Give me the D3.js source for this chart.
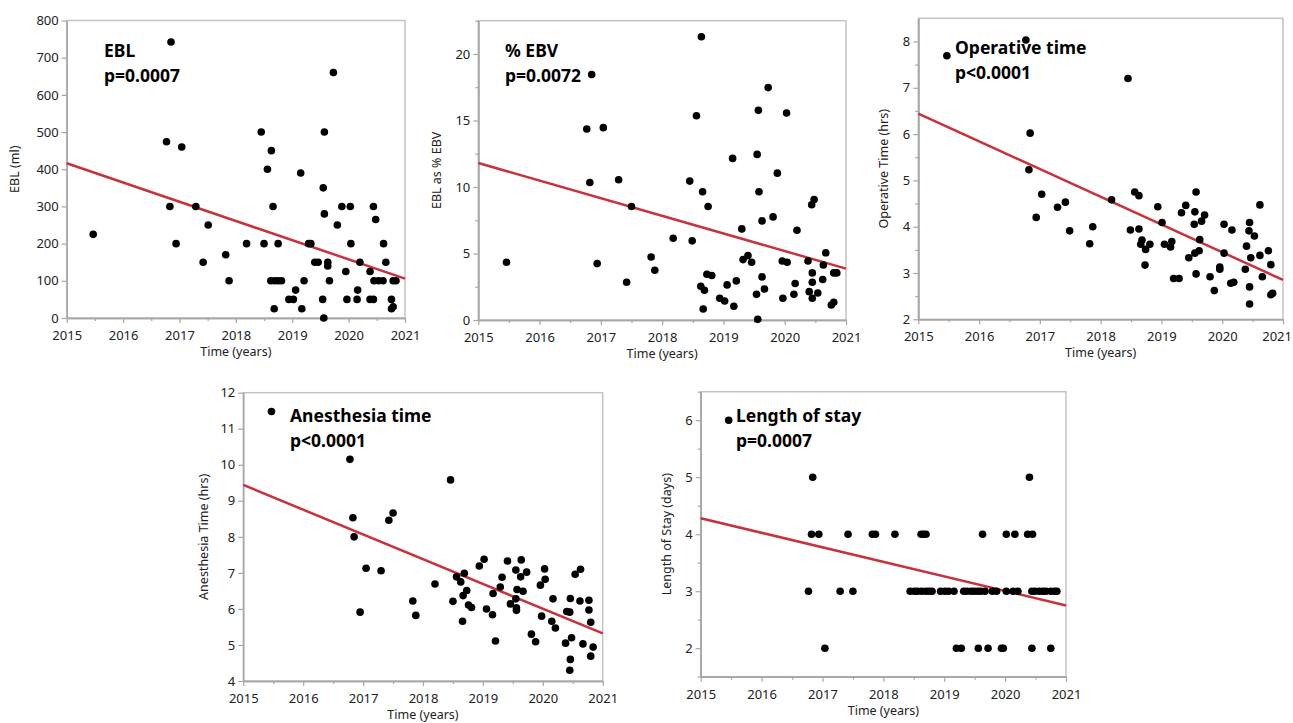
<!DOCTYPE html>
<html>
<head>
<meta charset="utf-8">
<script src="https://cdn.jsdelivr.net/npm/d3@7"></script>
<style>
  body { margin: 0; background: #fff; }
  text { font-family: "Noto Sans", sans-serif; }
</style>
</head>
<body>
<svg id="chart" width="1293" height="723"></svg>
<script>
// x 轴刻度
const years = [2015, 2016, 2017, 2018, 2019, 2020, 2021]

// [time (years), value]
const eblPoints = [
  [2015.47, 225], [2016.85, 742], [2016.77, 474], [2017.04, 460], [2016.83, 300], [2017.29, 300],
  [2017.51, 250], [2016.94, 200], [2017.42, 150], [2017.82, 170], [2017.88, 100], [2018.19, 200],
  [2018.45, 500], [2018.50, 200], [2018.56, 400], [2018.63, 450], [2018.66, 300], [2018.75, 200],
  [2018.62, 100], [2018.69, 100], [2018.75, 100], [2018.81, 100], [2018.68, 25], [2018.94, 50],
  [2019.02, 50], [2019.06, 75], [2019.15, 390], [2019.17, 25], [2019.21, 100], [2019.29, 200],
  [2019.33, 200], [2019.40, 150], [2019.46, 150], [2019.54, 50], [2019.56, 0], [2019.55, 350],
  [2019.57, 500], [2019.57, 280], [2019.63, 150], [2019.63, 140], [2019.66, 100], [2019.73, 660],
  [2019.80, 250], [2019.88, 300], [2019.95, 125], [2019.97, 50], [2020.03, 300], [2020.04, 200],
  [2020.15, 50], [2020.16, 75], [2020.20, 150], [2020.38, 125], [2020.38, 50], [2020.44, 50],
  [2020.44, 300], [2020.48, 265], [2020.45, 100], [2020.53, 100], [2020.61, 100], [2020.62, 200],
  [2020.66, 150], [2020.76, 50], [2020.76, 25], [2020.79, 30], [2020.79, 100], [2020.84, 100]
]
const ebvPoints = [
  [2015.46, 4.34], [2016.85, 18.45], [2016.77, 14.36], [2017.04, 14.46], [2016.82, 10.34], [2017.29, 10.54],
  [2017.50, 8.53], [2016.94, 4.24], [2017.42, 2.84], [2017.82, 4.74], [2017.88, 3.74], [2018.18, 6.15],
  [2018.45, 10.44], [2018.49, 5.95], [2018.56, 15.36], [2018.64, 21.29], [2018.66, 9.64], [2018.75, 8.53],
  [2018.63, 2.54], [2018.69, 2.24], [2018.73, 3.44], [2018.81, 3.34], [2018.67, 0.83], [2018.94, 1.63],
  [2019.02, 1.43], [2019.06, 2.64], [2019.15, 12.15], [2019.17, 1.03], [2019.21, 2.94], [2019.30, 6.85],
  [2019.32, 4.54], [2019.40, 4.84], [2019.46, 4.34], [2019.54, 1.93], [2019.56, 0.05], [2019.55, 12.45],
  [2019.57, 15.76], [2019.58, 9.64], [2019.63, 3.24], [2019.63, 7.45], [2019.67, 2.33], [2019.73, 17.47],
  [2019.81, 7.75], [2019.88, 11.04], [2019.96, 4.44], [2020.04, 4.34], [2019.97, 1.63], [2020.03, 15.56],
  [2020.15, 1.93], [2020.17, 2.74], [2020.20, 6.75], [2020.38, 4.44], [2020.40, 2.13], [2020.44, 8.66],
  [2020.48, 9.06], [2020.45, 3.54], [2020.45, 2.84], [2020.45, 1.63], [2020.54, 2.03], [2020.62, 3.04],
  [2020.63, 4.14], [2020.67, 5.05], [2020.76, 1.13], [2020.80, 1.33], [2020.80, 3.54], [2020.85, 3.54]
]
const opPoints = [
  [2015.47, 7.69], [2016.77, 8.03], [2016.84, 6.02], [2016.82, 5.23], [2017.03, 4.70], [2016.94, 4.20],
  [2017.29, 4.42], [2017.42, 4.53], [2017.49, 3.91], [2017.82, 3.63], [2017.87, 4.00], [2018.18, 4.58],
  [2018.45, 7.20], [2018.49, 3.93], [2018.56, 4.75], [2018.63, 4.67], [2018.63, 3.95], [2018.68, 3.71],
  [2018.66, 3.62], [2018.74, 3.51], [2018.73, 3.17], [2018.81, 3.62], [2018.94, 4.43], [2019.01, 4.09],
  [2019.05, 3.62], [2019.15, 3.56], [2019.17, 3.68], [2019.20, 2.88], [2019.29, 2.88], [2019.33, 4.30],
  [2019.40, 4.46], [2019.45, 3.33], [2019.54, 4.05], [2019.55, 4.32], [2019.57, 4.75], [2019.55, 3.43],
  [2019.62, 3.48], [2019.63, 3.72], [2019.57, 2.98], [2019.66, 4.12], [2019.71, 4.25], [2019.80, 2.92],
  [2019.87, 2.62], [2019.96, 3.08], [2019.96, 3.13], [2020.03, 4.05], [2020.03, 3.43], [2020.14, 2.78],
  [2020.19, 2.80], [2020.16, 3.93], [2020.38, 3.08], [2020.40, 3.58], [2020.45, 4.09], [2020.44, 3.91],
  [2020.45, 2.70], [2020.45, 2.33], [2020.47, 3.33], [2020.53, 3.80], [2020.62, 3.38], [2020.62, 4.47],
  [2020.66, 2.92], [2020.76, 3.48], [2020.80, 3.18], [2020.80, 2.53], [2020.83, 2.56]
]
const anesPoints = [
  [2015.47, 11.48], [2016.78, 10.15], [2016.83, 8.53], [2016.85, 8.00], [2017.05, 7.13], [2017.30, 7.06],
  [2016.95, 5.91], [2017.43, 8.46], [2017.50, 8.66], [2017.83, 6.22], [2017.88, 5.82], [2018.20, 6.69],
  [2018.46, 9.58], [2018.50, 6.21], [2018.56, 6.89], [2018.63, 6.75], [2018.69, 6.99], [2018.67, 6.37],
  [2018.73, 6.51], [2018.66, 5.66], [2018.76, 6.11], [2018.81, 6.04], [2018.94, 7.19], [2019.02, 7.38],
  [2019.06, 6.00], [2019.16, 5.84], [2019.17, 6.43], [2019.21, 5.11], [2019.29, 6.61], [2019.32, 6.88],
  [2019.41, 7.33], [2019.46, 6.14], [2019.55, 7.08], [2019.64, 7.36], [2019.63, 6.89], [2019.73, 7.02],
  [2019.57, 6.54], [2019.67, 6.49], [2019.55, 6.28], [2019.56, 6.03], [2019.56, 5.96], [2019.81, 5.30],
  [2019.88, 5.09], [2019.96, 6.66], [2019.98, 5.80], [2020.03, 7.11], [2020.04, 6.82], [2020.17, 6.28],
  [2020.15, 5.66], [2020.21, 5.47], [2020.38, 5.05], [2020.40, 5.93], [2020.45, 5.91], [2020.46, 6.29],
  [2020.48, 5.20], [2020.46, 4.60], [2020.45, 4.30], [2020.54, 6.96], [2020.63, 7.10], [2020.62, 6.22],
  [2020.67, 5.03], [2020.77, 6.24], [2020.77, 5.97], [2020.80, 5.63], [2020.84, 4.94], [2020.80, 4.69]
]
const losPoints = [
  [2015.46, 6], [2016.84, 5], [2016.82, 4], [2016.94, 4], [2017.42, 4], [2016.77, 3], [2017.29, 3],
  [2017.50, 3], [2017.04, 2], [2017.82, 4], [2017.87, 4], [2018.19, 4], [2018.62, 4], [2018.66, 4],
  [2018.70, 4], [2019.63, 4], [2020.02, 4], [2020.16, 4], [2020.37, 4], [2020.45, 4], [2020.40, 5],
  [2018.44, 3], [2018.51, 3], [2018.56, 3], [2018.63, 3], [2018.70, 3], [2018.75, 3], [2018.80, 3],
  [2018.94, 3], [2019.01, 3], [2019.07, 3], [2019.16, 3], [2019.32, 3], [2019.37, 3], [2019.44, 3],
  [2019.49, 3], [2019.55, 3], [2019.60, 3], [2019.67, 3], [2019.79, 3], [2019.86, 3], [2020.02, 3],
  [2020.13, 3], [2020.21, 3], [2020.44, 3], [2020.49, 3], [2020.56, 3], [2020.62, 3], [2020.67, 3],
  [2020.75, 3], [2020.81, 3], [2020.85, 3], [2019.20, 2], [2019.28, 2], [2019.56, 2], [2019.72, 2],
  [2019.94, 2], [2019.97, 2], [2020.44, 2], [2020.75, 2]
]

// 回归线在 2015 和 2021 处的值
const eblFit = [416, 106]
const ebvFit = [11.8, 3.86]
const opFit = [6.44, 2.85]
const anesFit = [9.44, 5.32]
const losFit = [4.28, 2.75]

// y 轴刻度
const eblTicks = [0, 100, 200, 300, 400, 500, 600, 700, 800]
const ebvTicks = [0, 5, 10, 15, 20]
const opTicks = [2, 3, 4, 5, 6, 7, 8]
const anesTicks = [4, 5, 6, 7, 8, 9, 10, 11, 12]
const losTicks = [2, 3, 4, 5, 6]

const panels = [
  { points: eblPoints, fit: eblFit, ticks: eblTicks, minor: [], yDomain: [0, 800],
    box: [66.7, 405, 20.5, 318], title: 'EBL', p: 'p=0.0007', yLabel: 'EBL (ml)',
    titlePos: [104, 57], yLabelX: 19 },
  { points: ebvPoints, fit: ebvFit, ticks: ebvTicks, minor: [2.5, 7.5, 12.5, 17.5, 22.5], yDomain: [0, 22.5],
    box: [478.3, 846, 20.7, 320], title: '% EBV', p: 'p=0.0072', yLabel: 'EBL as % EBV',
    titlePos: [505, 57], yLabelX: 441 },
  { points: opPoints, fit: opFit, ticks: opTicks, minor: [2.5, 3.5, 4.5, 5.5, 6.5, 7.5], yDomain: [2, 8.5],
    box: [918.3, 1283, 18.3, 319.3], title: 'Operative time', p: 'p<0.0001', yLabel: 'Operative Time (hrs)',
    titlePos: [955, 54], yLabelX: 888 },
  { points: anesPoints, fit: anesFit, ticks: anesTicks, minor: [], yDomain: [4, 12],
    box: [243.3, 602.7, 392.7, 681], title: 'Anesthesia time', p: 'p<0.0001', yLabel: 'Anesthesia Time (hrs)',
    titlePos: [290, 422], yLabelX: 208 },
  { points: losPoints, fit: losFit, ticks: losTicks, minor: [1.5, 2.5, 3.5, 4.5, 5.5, 6.5], yDomain: [1.5, 6.5],
    box: [700.7, 1066, 391.7, 676.7], title: 'Length of stay', p: 'p=0.0007', yLabel: 'Length of Stay (days)',
    titlePos: [736, 422], yLabelX: 671 }
]

const svg = d3.select('#chart')
const axisColor = '#a6a6a6'
const halfYears = d3.range(2015.5, 2021, 1)
const width = +svg.attr('width')

panels.forEach(drawPanel)

function drawPanel(cfg) {
  const [x0, x1, yTop, yBot] = cfg.box
  const x = d3.scaleLinear().domain([2015, 2021]).range([x0, x1])
  const y = d3.scaleLinear().domain(cfg.yDomain).range([yBot, yTop])
  const g = svg.append('g')

  // 外框
  g.append('rect')
    .attr('x', x0).attr('y', yTop)
    .attr('width', x1 - x0).attr('height', yBot - yTop)
    .attr('fill', 'none').attr('stroke', '#c4c4c4').attr('stroke-width', 1.5)

  // x 轴
  const xAxis = g.append('g').attr('transform', `translate(0,${yBot})`)
    .call(d3.axisBottom(x).tickValues(years).tickFormat(d3.format('d')).tickSize(5).tickSizeOuter(0))
  xAxis.append('g')
    .call(d3.axisBottom(x).tickValues(halfYears).tickFormat('').tickSize(3).tickSizeOuter(0))
  xAxis.selectAll('text').attr('font-size', 13).attr('fill', '#222').attr('dy', '1.08em')
  // 贴边的刻度文字往里挪一点
  xAxis.selectAll('text').each(function () {
    const b = this.getBoundingClientRect()
    if (b.right > width - 1) d3.select(this).attr('dx', -(b.right - width + 1))
  })

  // y 轴
  const yAxis = g.append('g').attr('transform', `translate(${x0},0)`)
    .call(d3.axisLeft(y).tickValues(cfg.ticks).tickFormat(d3.format('d')).tickSize(5).tickSizeOuter(0))
  if (cfg.minor.length) {
    yAxis.append('g')
      .call(d3.axisLeft(y).tickValues(cfg.minor).tickFormat('').tickSize(3).tickSizeOuter(0))
  }
  yAxis.selectAll('text').attr('font-size', 13).attr('fill', '#222')
  g.selectAll('.domain').attr('stroke', axisColor).attr('stroke-width', 1.5)
  g.selectAll('.tick line').attr('stroke', axisColor).attr('stroke-width', 1.2)

  // 轴标题
  g.append('text')
    .attr('x', (x0 + x1) / 2).attr('y', yBot + 38)
    .attr('text-anchor', 'middle').attr('font-size', 12.5).attr('fill', '#222')
    .text('Time (years)')
  g.append('text')
    .attr('transform', `translate(${cfg.yLabelX},${(yTop + yBot) / 2}) rotate(-90)`)
    .attr('text-anchor', 'middle').attr('font-size', 12.5).attr('fill', '#222')
    .text(cfg.yLabel)

  // 回归线
  g.append('line')
    .attr('x1', x(2015)).attr('y1', y(cfg.fit[0]))
    .attr('x2', x(2021)).attr('y2', y(cfg.fit[1]))
    .attr('stroke', '#c8323c').attr('stroke-width', 2.5)

  // 散点
  g.append('g').selectAll('circle')
    .data(cfg.points)
    .join('circle')
    .attr('cx', d => x(d[0]))
    .attr('cy', d => y(d[1]))
    .attr('r', 3.8)
    .attr('fill', '#000')

  // 标题与 p 值
  const [tx, ty] = cfg.titlePos
  g.append('text').attr('x', tx).attr('y', ty)
    .attr('font-size', 17.5).attr('font-weight', 'bold').attr('fill', '#000')
    .text(cfg.title)
  g.append('text').attr('x', tx).attr('y', ty + 25)
    .attr('font-size', 17.5).attr('font-weight', 'bold').attr('fill', '#000')
    .text(cfg.p)
}
</script>
</body>
</html>
